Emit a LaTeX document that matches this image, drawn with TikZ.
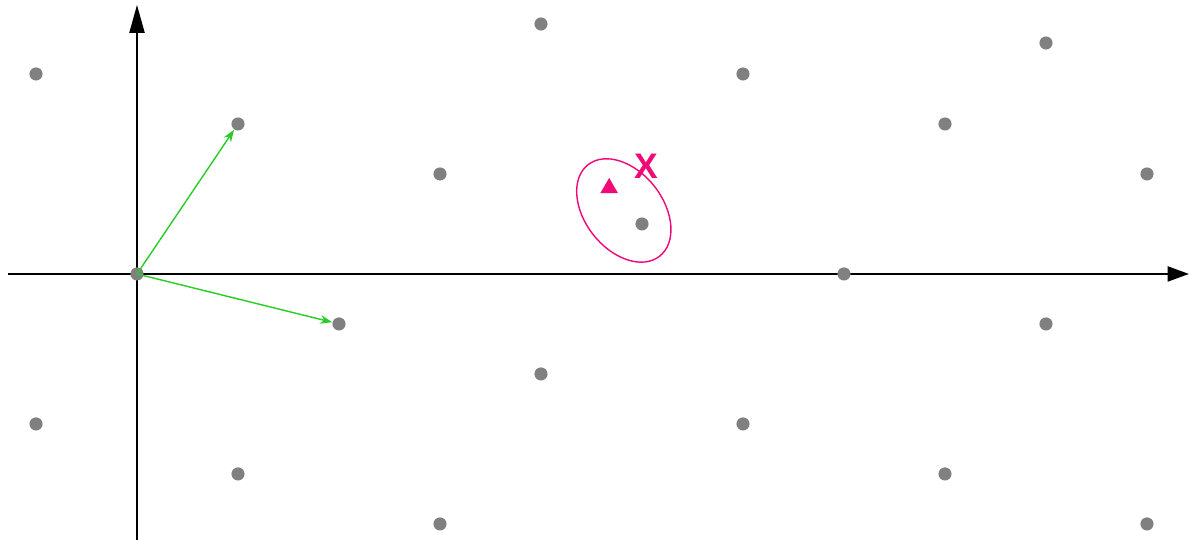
\documentclass[tikz,border=0pt]{standalone}
\usepackage{fontspec}
\usepackage{tikz}
\usetikzlibrary{arrows.meta,positioning,shapes.geometric}
\newfontfamily\labfont{Liberation Sans}
\definecolor{dotgray}{RGB}{128,128,128}
\definecolor{basegreen}{RGB}{40,205,40}
\definecolor{ringpink}{RGB}{240,10,120}

\begin{document}
\begin{tikzpicture}[x=1cm,y=0.99cm,
  pt/.style={circle,fill=dotgray,inner sep=0pt,minimum size=0.26cm},
  axis/.style={line width=0.8pt,black},
  basis/.style={line width=0.8pt,basegreen,-{Stealth[length=2.4mm,width=1.7mm]}}]
\useasboundingbox (-2.713,-5.32) rectangle (20.832,5.48);
% axes
\coordinate (xl) at (-2.55,0);
\coordinate (xr) at (20.83,0);
\coordinate (yb) at (0,-5.32);
\coordinate (yt) at (0,5.38);
\draw[axis,-{Triangle[length=4.2mm,width=3mm]}] (xl) -- (xr);
\draw[axis,-{Triangle[length=5.5mm,width=3mm]}] (yb) -- (yt);
% lattice points a*(2,3)+b*(4,-1)
\foreach \a/\b in {0/0,1/3,0/1,1/4,0/2,0/3,-1/0,0/4,-1/1,0/5,-1/2,
                   1/2,1/1,2/4,1/0,2/3,1/-1,2/2,2/1}{
  \node[pt] (p\a\b) at ({2*\a+4*\b},{3*\a-\b}) {};
}
\node[pt] (extra) at (18.0,4.62) {};
% basis vectors
\draw[basis] (p00.center) -- (p10);
\draw[basis] (p00.center) -- (p01);
% target and its ellipse
\coordinate (c) at (9.64,1.27);
\draw[ringpink,line width=0.8pt,rotate around={-52:(c)}] (c) ellipse (1.15 and 0.78);
\node[regular polygon,regular polygon sides=3,fill=ringpink,inner sep=0pt,minimum size=0.4cm] (tgt) at (9.35,1.72) {};
\node[text=ringpink,font=\labfont\bfseries\fontsize{20}{24}\selectfont] (lab) at (10.08,2.16) {X};
\end{tikzpicture}
\end{document}
